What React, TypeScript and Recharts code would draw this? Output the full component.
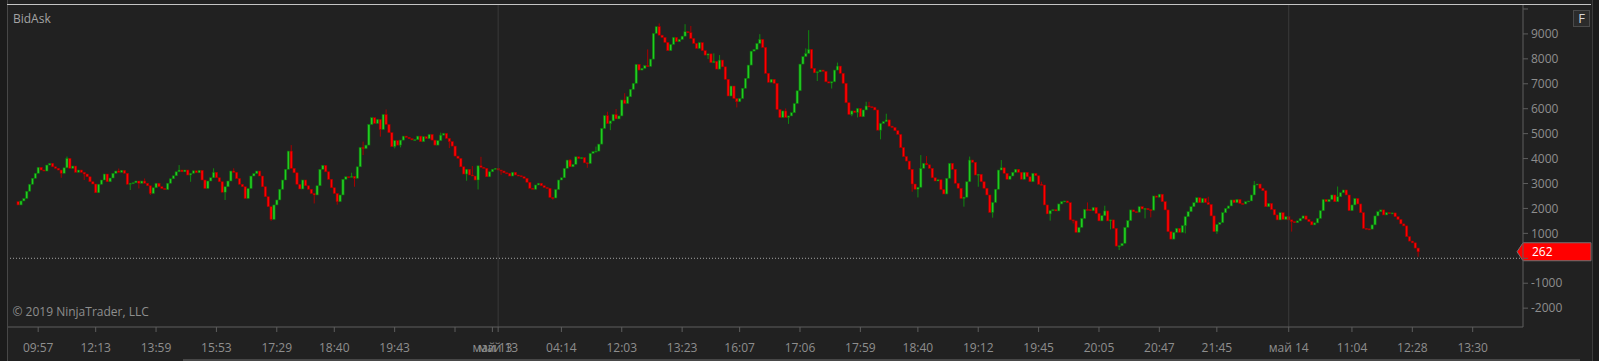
import React from "react"
import { ComposedChart, Bar, XAxis, YAxis, ReferenceLine } from "recharts"

// close per bar; [close, high, low] where a wick sticks out past the body
type Entry = number | [number, number | null, number | null]

const FIRST_OPEN = 2270

const seg0957: Entry[] = [
  2140, 2300, 2400, 2690, 2970, 3210, 3410, 3650, 3540, 3500,
  3740, 3810, 3670, 3610, 3540, [3410, null, 3230], 3630, [4010, 4080, null], 3610, 3700,
  3450, 3540, 3450, [3380, null, 3140], 3270, 3070, 2980, 2630, 2970, 3140,
  3380, 3070, 3220, 3410, 3500, [3450, 3600, null], 3530, 3410, 2970, [3010, null, 2740],
  3030, 3100, [3010, null, 2800], 3100, [3010, 3200, null], 2910, [2600, null, 2540], 2830, 3010, 2870,
  2800, 2760, 3010, 3190, 3310, 3470, [3540, 3740, null], 3470, 3540, 3340,
  [3410, null, 3070], 3510, 3430, 3530, 3140, 2800, 3100, 3230, [3450, 3610, null], 3230,
  3070, 2650, [2870, null, 2340], 3100, 3500, [3450, 3610, null], 3200, 2970, 2870,
]

const seg1729: Entry[] = [
  2400, 2800, 3300, 3400, 3500, 3300, 2870, 2470, 2070, [1560, null, 1500],
  2140, 2340, 2770, 3140, 3570, 4300, [3610, 4540, null], 3430, 2970, 2780,
  3140, 2910, 2770, 2600, [2540, null, 2200], 2910, 3570, 3730, 3470, 3170,
  2830, 2600, [2270, null, 2150], 2540, 3170, 3270, 3260, [3290, 3430, null], [3210, null, 2870], 3670,
  4450, [4400, 4680, 4140], 4540, 5370, 5640, 5410, 5570, [5170, null, 4880], 5770, [5370, 5970, null],
  5040, 4480, [4720, null, 4410], 4540, [4740, null, 4450], 4900, 4850, 4800, 4750, 4760,
  4900, 4680, 4880, 4800, 4970, 4740, 4540, 4720, [4940, 5040, null], 5010,
  4810, [4680, null, 4420], 4500, 4100, 4010, 3670, 3380, [3570, null, 3110], 3340, [3300, 3700, null],
  3140,
]

const segMay13: Entry[] = [
  [3710, null, 2760], [3650, 4070, null], 3610, 3270, 3470, 3570, 3610, 3540, [3500, null, 3350], 3430,
  3410, 3300, 3450, 3340, 3310, 3270, 3210, 3050, 2810, 2770,
  2940, 3010, 2910, 2840, 2810, 2440, [2420, null, 2350], 2760, 3140, 3230,
  3610, 3940, [3670, 3980, null], 3770, 4070, 4000, 4040, 3830, [3800, null, 3630], 4210,
  4280, [4300, 4480, null], 4580, 5210, 5720, [5400, 5880, null], [5510, null, 5140], 5770, [5590, 5990, null], 5710,
  6350, [6210, 6620, null], 6480, 6780, 7020, 7780, 7550, 7620, 7730, [7700, 8380, null],
  7990, 9020, 9290, [8950, 9420, null], 8860, 8660, 8330, 8580, 8860, 8690,
  8780, 8910, [9090, 9390, null], 9050, [8820, 9320, null], 8620, 8420, 8650, 8330, 8150,
  [8200, null, 7990], 7850,
]

const seg1607: Entry[] = [
  [7900, 8220, null], 7590, [7950, 8150, null], 7680, 7180, 6510, 6910, 6410, [6280, null, 6050], 6410,
  6820, 7220, 7750, 8310, 8380, 8620, [8780, 8990, null], 8460, 7420, 7060,
  7180, 7020, 5970, 5650, 5910, [5650, 6010, null], [5710, null, 5390], 5840, 6210, 6720,
  7790, 8090, [8220, 8420, null], [8380, 9150, null], 7620, 7440, [7480, null, 7110], 7550, 7500, 7080,
  7030, [7080, null, 6810], 7550, [7710, 7850, null], 7420, 7020, 6240, 5770, [5910, null, 5700], 5850,
  [6010, null, 5650], 5680, 5950, [6110, 6280, null], [6080, 6280, null], 6060, 5950, 5140, [5410, null, 4770], 5480,
  [5550, 5800, null], 5300, 5250, 5120, 4970, 4440, 4080, 3900, 3570, [2980, null, 2670],
  2770, [2850, null, 2440], [3610, 4140, null], 3810, [3750, 4100, null], 3610, 3230, 3100, 3150, 2760,
  2580, 3210,
]

const seg1912: Entry[] = [
  3810, 3570, 3010, 2810, 2400, [2450, null, 2070], 3070, [3940, 4080, null], 3850, 3340,
  [3370, null, 2870], 3070, 2810, 2540, 1840, [2240, null, 1630], 2770, 3540, [3630, 3940, null], 3410,
  3170, 3300, 3450, 3570, 3450, 3170, 3450, 3270, 3070, 3410,
  3310, 2970, [2940, 3070, null], 2140, 1780, [1910, null, 1510], 1950, 1900, 2180, 2270,
  2300, 2230, 1540, [1500, null, 1400], 1040, 1240, 1600, 1960, [1950, 2240, null], 1910,
  2040, 1800, 1500, 1710, [1900, 2110, null], 1500, [1540, null, 1160], 1200, 490, [500, null, 330],
  600, 1240, 1510, 1940, 1870, 1850, 2070, 1980, [2000, null, 1600], 1950,
  [1930, null, 1640], 2500, 2450, 2570, 2270, 1940, 1070, 770, 1040, 1200,
  1040, 1310,
]

const seg2145: Entry[] = [
  [1670, null, 1000], 1870, 2070, 2230, 2430, 2230, 2400, 2240, [2160, 2470, null], 1700,
  1070, [1360, null, 980], 1430, 1830, 2000, 2100, 2340, 2230, 2360, 2200,
  2180, 2270, 2300, 2540, [2940, 3100, null], 2980, 2810, 2710, 2070, 2200,
  1960, 1740, 1540, 1830, 1560, 1670, 1540, [1470, null, 1070], 1430, 1500,
  1600, 1700, 1560, 1470, 1340, 1420, 1600, 1910, 2360, 2270,
  2360, 2540, 2270, [2470, 2880, null], 2630, 2740, 2540, 1910, 2140, 2400,
  2180, 1830, 1200, 1180, 1170, 1340, 1700, 1870, 1940, 1740,
  1830, 1790, 1820, 1670, 1560,
]

const seg1228: Entry[] = [1380, 1300, 870, 690, 620, 410, [262, null, 60]]

const tickSlots = [10, 30, 51, 72, 93, 113, 134, 155, 168, 170, 192, 213, 234, 254, 275, 296, 316, 337, 358, 379, 400, 420, 445, 467, 488, 509]
const tickLabels = ["09:57", "12:13", "13:59", "15:53", "17:29", "18:40", "19:43", "", "май 13", "май 13", "04:14", "12:03", "13:23", "16:07", "17:06", "17:59", "18:40", "19:12", "19:45", "20:05", "20:47", "21:45", "май 14", "11:04", "12:28", "13:30"]
const daySlots = [170, 445]

const priceTicks = [-2000, -1000, 0, 1000, 2000, 3000, 4000, 5000, 6000, 7000, 8000, 9000, 10000]

const LEAD = 3
const TRAIL = 36

const entries = [...seg0957, ...seg1729, ...segMay13, ...seg1607, ...seg1912, ...seg2145, ...seg1228]

let prev = FIRST_OPEN
const candles = entries.map((e) => {
  const [c, hi, lo] = typeof e === "number" ? [e, null, null] : e
  const o = prev
  prev = c
  return {
    o,
    c,
    h: Math.max(o, c, hi ?? -Infinity),
    l: Math.min(o, c, lo ?? Infinity),
  }
})
const lastClose = candles[candles.length - 1].c

const rows = Array.from({ length: LEAD + candles.length + TRAIL }, (_, slot) => {
  const cd = candles[slot - LEAD]
  return cd ? { slot, ...cd, range: [cd.l, cd.h] } : { slot }
})

const BG = "#212121"
const AXIS = "#5e5e5e"
const TXT = "#8e8e8e"
const FONT = "'Open Sans', sans-serif"

function Candle(props: any) {
  const { x, y, width, height, payload } = props
  if (!payload || payload.c == null) return null
  const { o, c, h, l } = payload
  const span = h - l
  const py = (v: number) => (span > 0 ? y + ((h - v) / span) * height : y)
  const up = c >= o
  const cx = x + width / 2
  const bw = 2.3
  const top = py(Math.max(o, c))
  const bot = py(Math.min(o, c))
  return (
    <g>
      <line x1={cx} x2={cx} y1={y} y2={y + height} stroke={up ? "#0f8a0f" : "#a80000"} strokeWidth={1} />
      <rect
        x={cx - bw / 2}
        y={top}
        width={bw}
        height={Math.max(1, bot - top)}
        fill={up ? "#22cc22" : "#ff0000"}
        stroke={up ? "#0b6f0b" : "#9a0000"}
        strokeWidth={0.6}
      />
    </g>
  )
}

function PriceMarker(props: any) {
  const vb = props.viewBox
  if (!vb) return null
  const r = vb.x + vb.width
  const cy = vb.y
  return (
    <g>
      <polygon
        points={`${r - 6},${cy} ${r},${cy - 9} ${r + 68},${cy - 9} ${r + 68},${cy + 9} ${r},${cy + 9}`}
        fill="#ff0000"
        stroke="#707070"
        strokeWidth={1}
      />
      <text x={r + 9} y={cy + 4.5} fill="#ffffff" fontSize={12} fontFamily={FONT}>
        {lastClose}
      </text>
    </g>
  )
}

export default function App() {
  return (
    <div style={{ position: "fixed", left: 0, top: 0, width: 1599, height: 361, background: BG, overflow: "hidden" }}>
      <ComposedChart
        width={1599}
        height={361}
        data={rows}
        margin={{ top: 4, right: 0, bottom: 0, left: 8 }}
        barCategoryGap={0}
        barGap={0}
      >
        <XAxis
          dataKey="slot"
          type="category"
          ticks={tickSlots}
          interval={0}
          tickFormatter={(v: number) => tickLabels[tickSlots.indexOf(v)] ?? ""}
          height={34}
          tickSize={5}
          tickMargin={11}
          axisLine={{ stroke: AXIS }}
          tickLine={{ stroke: AXIS }}
          tick={{ fill: TXT, fontSize: 12, fontFamily: FONT }}
        />
        <YAxis
          orientation="right"
          width={76}
          domain={[-2756, 10200]}
          allowDataOverflow
          ticks={priceTicks}
          interval={0}
          tickFormatter={(v: number) => (v === 0 || v === 10000 ? "" : String(v))}
          tickSize={5}
          tickMargin={3}
          axisLine={{ stroke: AXIS }}
          tickLine={{ stroke: AXIS }}
          tick={{ fill: TXT, fontSize: 12, fontFamily: FONT, textAnchor: "start" }}
        />
        {daySlots.map((s) => (
          <ReferenceLine key={s} x={s} stroke="#3a3a3a" />
        ))}
        <ReferenceLine y={0} stroke="#a5a5a5" strokeDasharray="1 2" />
        <Bar dataKey="range" isAnimationActive={false} shape={(p: any) => <Candle {...p} />} />
        <ReferenceLine y={lastClose} stroke="none" label={<PriceMarker />} />
      </ComposedChart>
      <svg width={1599} height={361} style={{ position: "absolute", left: 0, top: 0, pointerEvents: "none" }}>
        <rect x={0} y={0} width={7} height={361} fill="#1b1b1b" />
        <line x1={7.5} x2={7.5} y1={0} y2={361} stroke="#474747" />
        <line x1={7} x2={1591} y1={4.5} y2={4.5} stroke="#c4c4c4" />
        <rect x={1592} y={0} width={7} height={361} fill="#1b1b1b" />
        <line x1={1592.5} x2={1592.5} y1={0} y2={361} stroke="#3c3c3c" />
        <rect x={183} y={359} width={1397} height={2} fill="#474747" />
        <text x={13} y={23} fill="#a4a4a4" fontSize={12} fontFamily={FONT}>BidAsk</text>
        <text x={12.5} y={316} fill={TXT} fontSize={12} fontFamily={FONT}>© 2019 NinjaTrader, LLC</text>
        <rect x={1573.5} y={10.5} width={16} height={16} fill="#2b2b2b" stroke="#4a4a4a" />
        <text x={1581.5} y={23} fill="#d6d6d6" fontSize={13} fontFamily={FONT} textAnchor="middle">F</text>
      </svg>
    </div>
  )
}
